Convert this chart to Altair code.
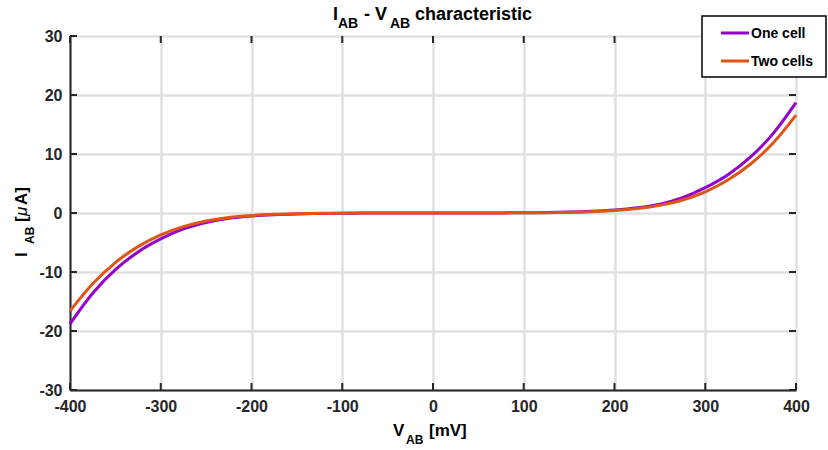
import altair as alt
import pandas as pd

# Bias voltage sweep [mV]
V_AB = [-400, -375, -350, -325, -300, -275, -250, -225, -200, -175, -150, -125, -100,
        -75, -50, -25, 0, 25, 50, 75, 100, 125, 150, 175, 200, 225, 250, 275, 300,
        325, 350, 375, 400]

# Measured current [uA]
I_one_cell = [-18.8, -13.6, -9.6, -6.6, -4.4, -2.7, -1.6, -0.9, -0.5, -0.28, -0.15, -0.08,
              -0.04, -0.02, -0.01, 0.0, 0.0, 0.0, 0.01, 0.02, 0.04, 0.08, 0.15, 0.28, 0.5,
              0.88, 1.5, 2.6, 4.3, 6.5, 9.5, 13.5, 18.7]
I_two_cells = [-16.6, -12.0, -8.4, -5.7, -3.7, -2.3, -1.35, -0.75, -0.42, -0.23, -0.12, -0.06,
               -0.03, -0.015, -0.005, 0.0, 0.0, 0.0, 0.005, 0.015, 0.03, 0.06, 0.12, 0.23,
               0.42, 0.75, 1.3, 2.2, 3.6, 5.6, 8.3, 11.9, 16.6]

series_names = ["One cell", "Two cells"]
series_colors = ["#9400CC", "#DE5516"]

x_ticks = [-400, -300, -200, -100, 0, 100, 200, 300, 400]
y_ticks = [-30, -20, -10, 0, 10, 20, 30]

FONT = "Liberation Sans"
INK = "#262626"
W, H = 726, 354

df = pd.concat([
    pd.DataFrame({"V": V_AB, "I": I_one_cell, "series": series_names[0]}),
    pd.DataFrame({"V": V_AB, "I": I_two_cells, "series": series_names[1]}),
])

xscale = alt.Scale(domain=[-400, 400], nice=False, zero=False)
yscale = alt.Scale(domain=[-30, 30], nice=False, zero=False)

axis_style = dict(
    title=None, grid=True, ticks=False, tickSize=0,
    labelFontSize=16, labelFont=FONT, labelFontWeight="bold", labelColor=INK,
    labelExpr="'' + datum.value",  # plain hyphen for negatives
    domainColor=INK, domainWidth=2, gridColor="#E0E0E0", gridWidth=2.5, labelFlush=False,
)
x_axis = alt.Axis(values=x_ticks, labelPadding=8, **axis_style)
y_axis = alt.Axis(values=y_ticks, labelPadding=8, **axis_style)

color_scale = alt.Scale(domain=series_names, range=series_colors)

lines = alt.Chart(df).mark_line(strokeWidth=3, interpolate="monotone").encode(
    x=alt.X("V:Q", scale=xscale, axis=x_axis),
    y=alt.Y("I:Q", scale=yscale, axis=y_axis),
    color=alt.Color("series:N", scale=color_scale, legend=None),
    detail="series:N",
)

# Inward tick marks on all four sides of the box
yt = pd.DataFrame({"v": y_ticks})
xt = pd.DataFrame({"v": x_ticks})
tick_style = dict(color=INK, strokeWidth=2)
ticks_left = alt.Chart(yt).mark_rule(**tick_style).encode(
    y=alt.Y("v:Q", scale=yscale), x=alt.value(0), x2=alt.value(7))
ticks_right = alt.Chart(yt).mark_rule(**tick_style).encode(
    y=alt.Y("v:Q", scale=yscale), x=alt.value(W - 7), x2=alt.value(W))
ticks_bottom = alt.Chart(xt).mark_rule(**tick_style).encode(
    x=alt.X("v:Q", scale=xscale), y=alt.value(H - 7), y2=alt.value(H))
ticks_top = alt.Chart(xt).mark_rule(**tick_style).encode(
    x=alt.X("v:Q", scale=xscale), y=alt.value(0), y2=alt.value(7))


def label(text, x, y, size, angle=0, italic=False, bold=True, baseline="alphabetic"):
    return alt.Chart(pd.DataFrame({"t": [text]})).mark_text(
        font=FONT, fontSize=size, fontWeight="bold" if bold else "normal",
        fontStyle="italic" if italic else "normal",
        align="left", baseline=baseline, angle=angle, color="#000000",
    ).encode(x=alt.value(x), y=alt.value(y), text="t:N")


# Legend box in the top-right corner
legend_box = alt.Chart(pd.DataFrame({"k": [0]})).mark_rect(
    fill="#FFFFFF", stroke="#000000", strokeWidth=1.5,
).encode(x=alt.value(632), x2=alt.value(756), y=alt.value(-20), y2=alt.value(41))
legend_rows = []
for i, (name, col) in enumerate(zip(series_names, series_colors)):
    yy = -3 + 28 * i
    legend_rows.append(
        alt.Chart(pd.DataFrame({"k": [0]})).mark_rule(color=col, strokeWidth=3).encode(
            x=alt.value(651), x2=alt.value(679), y=alt.value(yy))
    )
    legend_rows.append(label(name, 681, yy + 1, 14, baseline="middle"))

# Title with subscripts
title_parts = [
    label("I", 263, -16, 18),
    label("AB", 268, -8, 14),
    label("- V", 294, -16, 18),
    label("AB", 320, -8, 14),
    label("characteristic", 345, -16, 18),
]
# x-axis title
xtitle_parts = [
    label("V", 323, 400, 17),
    label("AB", 336, 408, 12),
    label("[mV]", 359, 400, 17),
]
# y-axis title, rotated to read upward
ytitle_parts = [
    label("I", -43, 221, 17, angle=270),
    label("AB", -36, 208, 12, angle=270),
    label("[", -43, 186, 17, angle=270),
    label("μ", -43, 180, 17, angle=270, italic=True, bold=False),
    label("A]", -43, 169, 17, angle=270),
]

chart = alt.layer(
    lines, ticks_left, ticks_right, ticks_bottom, ticks_top,
    legend_box, *legend_rows,
    *title_parts, *xtitle_parts, *ytitle_parts,
).properties(
    width=W, height=H,
    autosize=alt.AutoSizeParams(type="none"),
    padding={"left": 70, "top": 36, "right": 32, "bottom": 60},
).configure_view(
    stroke=INK, strokeWidth=2,
).configure(background="#FFFFFF")

chart.save("out.html", embed_options={"renderer": "svg", "actions": False})
